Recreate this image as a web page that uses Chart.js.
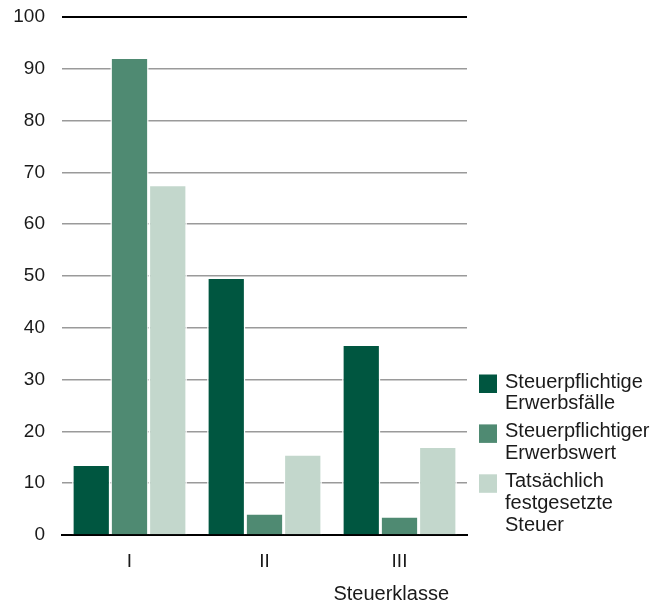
<!DOCTYPE html>
<html>
<head>
<meta charset="utf-8">
<script src="https://cdn.jsdelivr.net/npm/chart.js@4/dist/chart.umd.min.js"></script>
<style>
  html, body { margin: 0; padding: 0; background: #ffffff; }
  #wrap { width: 656px; height: 608px; }
</style>
</head>
<body>
<div id="wrap"><canvas id="c" width="656" height="608"></canvas></div>
<script>
// Steuerklassen und die drei Kennzahlen je Klasse (Anteile in %)
const categories = ['I', 'II', 'III'];
const erwerbsfaelle = [13.6, 49.7, 36.8];
const erwerbswert = [92.2, 4.2, 3.6];
const festgesetzteSteuer = [67.6, 15.6, 17.1];
const yTicks = [0, 10, 20, 30, 40, 50, 60, 70, 80, 90, 100];

const seriesLabels = [
  ['Steuerpflichtige', 'Erwerbsfälle'],
  ['Steuerpflichtiger', 'Erwerbswert'],
  ['Tatsächlich', 'festgesetzte', 'Steuer']
];
const seriesColors = ['#005640', '#4f8a72', '#c3d7cc'];
const axisTitle = 'Steuerklasse';

const FONT = '"Liberation Sans", Arial, sans-serif';
const TEXT = '#1a1a1a';

// Legend with multi-line entries to the right of the plot, plus the axis title
const sideLegend = {
  id: 'sideLegend',
  afterDraw(chart) {
    const { ctx, chartArea } = chart;
    ctx.save();
    ctx.font = '20px ' + FONT;
    ctx.fillStyle = TEXT;
    ctx.textBaseline = 'middle';
    ctx.textAlign = 'left';
    const lineH = 21.7;
    const itemGap = 6.5;
    const boxX = chartArea.right + 12;
    const textX = chartArea.right + 38;
    let y = chartArea.bottom - 153;
    chart.data.datasets.forEach((ds, i) => {
      ctx.fillStyle = ds.backgroundColor;
      ctx.fillRect(boxX, y - 7.5, 18, 18.5);
      ctx.fillStyle = TEXT;
      seriesLabels[i].forEach((line, k) => {
        ctx.fillText(line, textX, y + k * lineH);
      });
      y += seriesLabels[i].length * lineH + itemGap;
    });
    // x axis title
    ctx.font = '20px ' + FONT;
    ctx.textAlign = 'right';
    ctx.fillText(axisTitle, chartArea.right - 18, chartArea.bottom + 59);
    ctx.restore();
  }
};

const seriesValues = [erwerbsfaelle, erwerbswert, festgesetzteSteuer];

new Chart(document.getElementById('c'), {
  type: 'bar',
  data: {
    labels: categories,
    datasets: seriesValues.map((vals, i) => ({
      label: seriesLabels[i].join(' '),
      data: vals,
      backgroundColor: seriesColors[i],
      borderColor: '#ffffff',
      borderWidth: 1.5,
      barPercentage: 1.0,
      categoryPercentage: 0.85
    }))
  },
  options: {
    responsive: false,
    animation: false,
    devicePixelRatio: 1,
    layout: { padding: { left: 0, right: 189, top: 17, bottom: 0 } },
    plugins: {
      legend: { display: false },
      tooltip: { enabled: false }
    },
    scales: {
      x: {
        grid: { display: false, drawTicks: false },
        border: { display: true, color: '#000000', width: 2 },
        ticks: { color: TEXT, font: { family: FONT, size: 19 }, padding: 15 },
        afterFit(scale) { scale.height = 73; scale.paddingLeft = 0; scale.paddingRight = 0; }
      },
      y: {
        min: 0,
        max: 100,
        afterBuildTicks(scale) { scale.ticks = yTicks.map(v => ({ value: v })); },
        grid: {
          drawTicks: false,
          color: ctx => (ctx.tick && ctx.tick.value === 100) ? '#000000' : '#9a9a9a',
          lineWidth: ctx => (ctx.tick && ctx.tick.value === 100) ? 2 : 1.6
        },
        border: { display: false },
        ticks: { color: TEXT, font: { family: FONT, size: 19 }, padding: 17 },
        afterFit(scale) { scale.width = 62; scale.paddingTop = 0; scale.paddingBottom = 0; }
      }
    }
  },
  plugins: [sideLegend]
});
</script>
</body>
</html>
